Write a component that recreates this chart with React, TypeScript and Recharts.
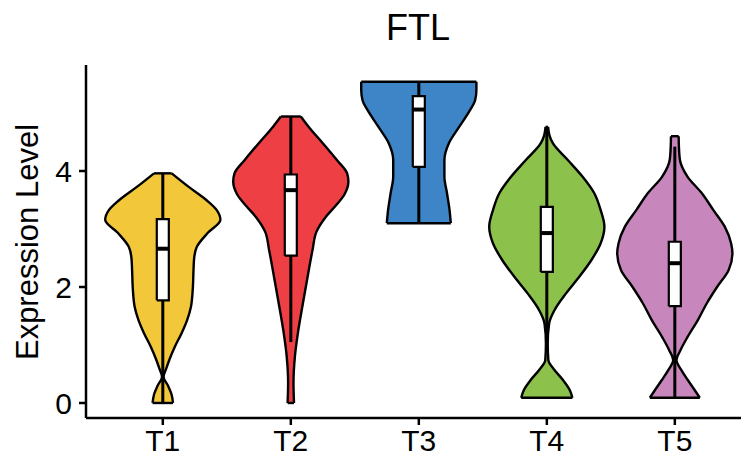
import React from 'react';
import { ComposedChart, Area, Line, XAxis, YAxis } from 'recharts';

// ---- data ----
const categories = ['T1', 'T2', 'T3', 'T4', 'T5'];
const fillColors = ['#F2C83A', '#EE3F45', '#3D85C6', '#8CC14C', '#C887BC'];
const yTicks = [0, 2, 4];

// violin profiles: expression level and half width (category units)
const levelsT1 = [0, 0.15, 0.3, 0.45, 0.6, 0.75, 0.97, 1.2, 1.43, 1.66, 2.0, 2.3, 2.5, 2.69, 2.93, 3.16, 3.33, 3.5, 3.73, 3.96];
const widthsT1 = [0.08, 0.068, 0.04, 0.006, 0.028, 0.052, 0.094, 0.146, 0.19, 0.22, 0.235, 0.24, 0.245, 0.265, 0.35, 0.45, 0.42, 0.34, 0.2, 0.069];

const levelsT2 = [0, 0.35, 0.8, 1.2, 1.6, 2.1, 2.64, 2.95, 3.2, 3.4, 3.6, 3.82, 3.96, 4.19, 4.48, 4.76, 4.94];
const widthsT2 = [0.025, 0.021, 0.032, 0.055, 0.085, 0.125, 0.17, 0.2, 0.27, 0.35, 0.42, 0.45, 0.44, 0.36, 0.25, 0.14, 0.078];

const levelsT3 = [3.1, 3.33, 3.62, 3.9, 4.19, 4.48, 4.76, 5.05, 5.22, 5.4, 5.54];
const widthsT3 = [0.25, 0.24, 0.22, 0.2, 0.2, 0.235, 0.315, 0.4, 0.44, 0.45, 0.45];

const levelsT4 = [0.09, 0.22, 0.4, 0.57, 0.74, 1.03, 1.37, 1.6, 1.89, 2.18, 2.47, 2.75, 3.04, 3.33, 3.62, 3.9, 4.19, 4.48, 4.62, 4.76];
const widthsT4 = [0.2, 0.18, 0.125, 0.06, 0.012, 0.007, 0.018, 0.06, 0.15, 0.255, 0.35, 0.42, 0.45, 0.42, 0.37, 0.28, 0.164, 0.047, 0.02, 0.01];

const levelsT5 = [0.09, 0.22, 0.4, 0.57, 0.74, 0.91, 1.14, 1.43, 1.72, 2.0, 2.29, 2.58, 2.75, 3.04, 3.33, 3.62, 3.9, 4.19, 4.42, 4.6];
const widthsT5 = [0.195, 0.156, 0.1, 0.05, 0.013, 0.044, 0.1, 0.18, 0.25, 0.33, 0.42, 0.45, 0.44, 0.39, 0.3, 0.21, 0.1, 0.04, 0.032, 0.03];

// box stats: [lower whisker, q1, median, q3, upper whisker]
const statsT1 = [0, 1.77, 2.66, 3.17, 3.96];
const statsT2 = [1.05, 2.54, 3.67, 3.94, 4.94];
const statsT3 = [3.1, 4.07, 5.06, 5.29, 5.54];
const statsT4 = [0.9, 2.26, 2.93, 3.38, 4.76];
const statsT5 = [0.09, 1.67, 2.41, 2.78, 4.42];

const levels = [levelsT1, levelsT2, levelsT3, levelsT4, levelsT5];
const widths = [widthsT1, widthsT2, widthsT3, widthsT4, widthsT5];
const stats = [statsT1, statsT2, statsT3, statsT4, statsT5];

// ---- styling ----
const FONT = '"Liberation Sans", Arial, Helvetica, sans-serif';
const BOX_HALF = 0.047;

const violinData = levels.map((lv, i) =>
  lv.map((v, j) => ({ v, range: [i + 1 - widths[i][j], i + 1 + widths[i][j]] }))
);
const endData = levels.map((lv, i) => {
  const n = lv.length - 1;
  return [
    [{ v: lv[0], x: i + 1 - widths[i][0] }, { v: lv[0], x: i + 1 + widths[i][0] }],
    [{ v: lv[n], x: i + 1 - widths[i][n] }, { v: lv[n], x: i + 1 + widths[i][n] }],
  ];
});
const boxFill = stats.map((s, i) => [
  { v: s[1], range: [i + 1 - BOX_HALF, i + 1 + BOX_HALF] },
  { v: s[3], range: [i + 1 - BOX_HALF, i + 1 + BOX_HALF] },
]);
const boxOutline = stats.map((s, i) => [
  { v: s[1], x: i + 1 - BOX_HALF },
  { v: s[1], x: i + 1 + BOX_HALF },
  { v: s[3], x: i + 1 + BOX_HALF },
  { v: s[3], x: i + 1 - BOX_HALF },
  { v: s[1], x: i + 1 - BOX_HALF },
]);
const medianData = stats.map((s, i) => [
  { v: s[2], x: i + 1 - BOX_HALF },
  { v: s[2], x: i + 1 + BOX_HALF },
]);
const lowerWhisker = stats.map((s, i) => [
  { v: s[0], x: i + 1 },
  { v: s[1], x: i + 1 },
]);
const upperWhisker = stats.map((s, i) => [
  { v: s[3], x: i + 1 },
  { v: s[4], x: i + 1 },
]);

export default function App() {
  return (
    <div style={{ position: 'absolute', left: 0, top: 0, width: 741, height: 459, background: '#fff' }}>
      <ComposedChart
        layout="vertical"
        width={741}
        height={459}
        margin={{ top: 65, right: 0, bottom: 0, left: 0 }}
      >
        <XAxis
          type="number"
          domain={[0.4, 5.517]}
          allowDataOverflow
          ticks={[1, 2, 3, 4, 5]}
          tickFormatter={(t: number) => categories[t - 1]}
          height={41}
          tickSize={7}
          tickMargin={5}
          fontSize={30}
          fontFamily={FONT}
          axisLine={{ stroke: '#000', strokeWidth: 2.5 }}
          tickLine={{ stroke: '#000', strokeWidth: 2.5 }}
          tick={{ fill: '#000', fontSize: 30, fontFamily: FONT }}
        />
        <YAxis
          type="number"
          dataKey="v"
          reversed
          domain={[-0.259, 5.828]}
          allowDataOverflow
          ticks={yTicks}
          width={86}
          tickSize={7}
          tickMargin={7}
          fontSize={30}
          fontFamily={FONT}
          axisLine={{ stroke: '#000', strokeWidth: 2.5 }}
          tickLine={{ stroke: '#000', strokeWidth: 2.5 }}
          tick={{ fill: '#000', fontSize: 30, fontFamily: FONT }}
        />
        {violinData.map((d, i) => (
          <Area
            key={'violin' + i}
            data={d}
            dataKey="range"
            type="monotone"
            fill={fillColors[i]}
            fillOpacity={1}
            stroke="#000"
            strokeWidth={2.4}
            dot={false}
            activeDot={false}
            isAnimationActive={false}
          />
        ))}
        {boxFill.map((d, i) => (
          <Area
            key={'boxfill' + i}
            data={d}
            dataKey="range"
            type="linear"
            fill="#fff"
            fillOpacity={1}
            stroke="none"
            dot={false}
            activeDot={false}
            isAnimationActive={false}
          />
        ))}
        {endData.map((pair, i) =>
          pair.map((d, k) => (
            <Line
              key={'end' + i + '-' + k}
              data={d}
              dataKey="x"
              type="linear"
              stroke="#000"
              strokeWidth={2.4}
              dot={false}
              activeDot={false}
              isAnimationActive={false}
            />
          ))
        )}
        {lowerWhisker.map((d, i) => (
          <Line key={'lw' + i} data={d} dataKey="x" type="linear" stroke="#000" strokeWidth={3}
            dot={false} activeDot={false} isAnimationActive={false} />
        ))}
        {upperWhisker.map((d, i) => (
          <Line key={'uw' + i} data={d} dataKey="x" type="linear" stroke="#000" strokeWidth={3}
            dot={false} activeDot={false} isAnimationActive={false} />
        ))}
        {boxOutline.map((d, i) => (
          <Line key={'bo' + i} data={d} dataKey="x" type="linear" stroke="#000" strokeWidth={2.2}
            dot={false} activeDot={false} isAnimationActive={false} />
        ))}
        {medianData.map((d, i) => (
          <Line key={'md' + i} data={d} dataKey="x" type="linear" stroke="#000" strokeWidth={4}
            dot={false} activeDot={false} isAnimationActive={false} />
        ))}
      </ComposedChart>
      <div
        style={{
          position: 'absolute', left: 318, top: 10, width: 200, textAlign: 'center',
          fontSize: 36, lineHeight: '36px', fontFamily: FONT, color: '#000',
        }}
      >
        FTL
      </div>
      <div
        style={{
          position: 'absolute', left: -122, top: 227, width: 300, height: 30, textAlign: 'center',
          fontSize: 31, lineHeight: '30px', fontFamily: FONT, color: '#000',
          transform: 'rotate(-90deg)', transformOrigin: '150px 15px', whiteSpace: 'nowrap',
        }}
      >
        Expression Level
      </div>
    </div>
  );
}
